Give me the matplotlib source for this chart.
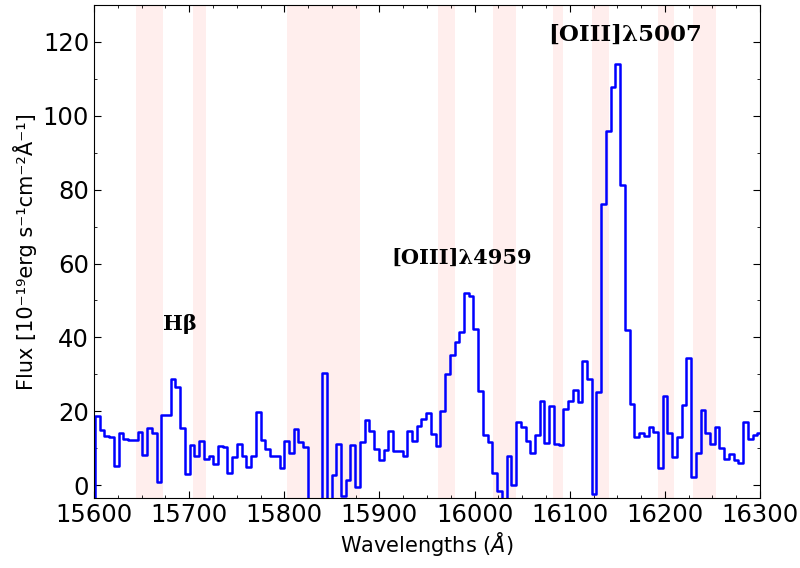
import numpy as np
import matplotlib
matplotlib.use("Agg")
import matplotlib.pyplot as plt
from matplotlib.ticker import MultipleLocator

# spectrum: flux per pixel (first value lies left of the axis)
flux = [-5.0, 18.7, 14.9, 13.4, 12.9, 5.1, 14.2, 12.5, 12.2, 12.2,
        14.4, 8.1, 15.5, 14.0, 0.9, 18.9, 18.9, 28.6, 26.5, 15.5,
        2.9, 10.8, 8.0, 12.0, 7.0, 7.8, 5.7, 10.6, 10.2, 3.3,
        7.5, 11.2, 7.9, 4.8, 7.9, 19.7, 12.2, 9.7, 8.0, 8.0,
        4.6, 11.9, 8.7, 15.3, 11.7, 10.3, -12.0, -15.0, -10.0, 30.3,
        -8.0, 2.7, 11.1, -2.9, 1.4, 10.8, -0.6, 11.8, 17.5, 14.7,
        9.9, 6.8, 9.5, 14.7, 9.2, 9.1, 7.9, 14.7, 11.9, 16.0,
        18.0, 19.6, 13.9, 10.5, 20.0, 30.1, 35.3, 38.7, 41.4, 52.1,
        51.2, 42.4, 25.6, 13.6, 11.8, 3.3, -1.6, -8.0, 7.8, 0.0,
        17.1, 15.6, 11.9, 8.8, 13.6, 22.9, 11.3, 21.4, 11.0, 10.9,
        20.5, 22.9, 25.8, 22.6, 33.7, 28.8, -2.4, 25.2, 76.0, 95.9,
        107.8, 113.9, 81.2, 42.0, 22.0, 13.1, 14.1, 13.4, 15.6, 14.4,
        4.6, 24.2, 14.0, 7.6, 12.9, 21.6, 34.4, 2.3, 8.7, 20.3,
        14.2, 11.0, 15.8, 10.1, 7.1, 8.4, 6.8, 5.9, 17.2, 12.6,
        13.6, 14.1]

wave_start = 15598.6   # centre of first pixel
wave_step = 4.972      # pixel width in Angstrom
wave = wave_start + wave_step * np.arange(len(flux))

# masked sky-line regions (Angstrom)
sky_regions = [(15644, 15672), (15704, 15718), (15803, 15880), (15962, 15979),
               (16019, 16044), (16082, 16093), (16123, 16141), (16193, 16210),
               (16230, 16254)]

line_labels = ["Hβ", "[OIII]λ4959", "[OIII]λ5007"]
label_x = [15690, 15986, 16158]
label_y = [43.5, 61.5, 122]
label_size = [15, 15, 16.5]

fig = plt.figure(figsize=(8, 5.68), dpi=100)
ax = fig.add_axes([0.1175, 0.1232, 0.8325, 0.868])

for lo, hi in sky_regions:
    ax.axvspan(lo, hi, color="mistyrose", alpha=0.6, lw=0, zorder=0)

ax.step(wave, flux, where="mid", color="blue", lw=1.8, zorder=2)

for txt, x, y, s in zip(line_labels, label_x, label_y, label_size):
    ax.text(x, y, txt, ha="center", va="center", fontsize=s,
            family="DejaVu Serif", fontweight="bold")

ax.set_xlim(15600, 16300)
ax.set_ylim(-3.5, 130)
ax.xaxis.set_major_locator(MultipleLocator(100))
ax.xaxis.set_minor_locator(MultipleLocator(25))
ax.yaxis.set_major_locator(MultipleLocator(20))
ax.yaxis.set_minor_locator(MultipleLocator(10))
ax.tick_params(which="both", direction="in", top=True, right=True, labelsize=17.5)
ax.tick_params(which="major", length=5)
ax.tick_params(which="minor", length=2.5)

ax.set_xlabel(r"Wavelengths ($\AA$)", fontsize=15, labelpad=2)
ax.set_ylabel("Flux [10⁻¹⁹erg s⁻¹cm⁻²Å⁻¹]", fontsize=15, labelpad=4)

fig.savefig("out.png", dpi=100)
